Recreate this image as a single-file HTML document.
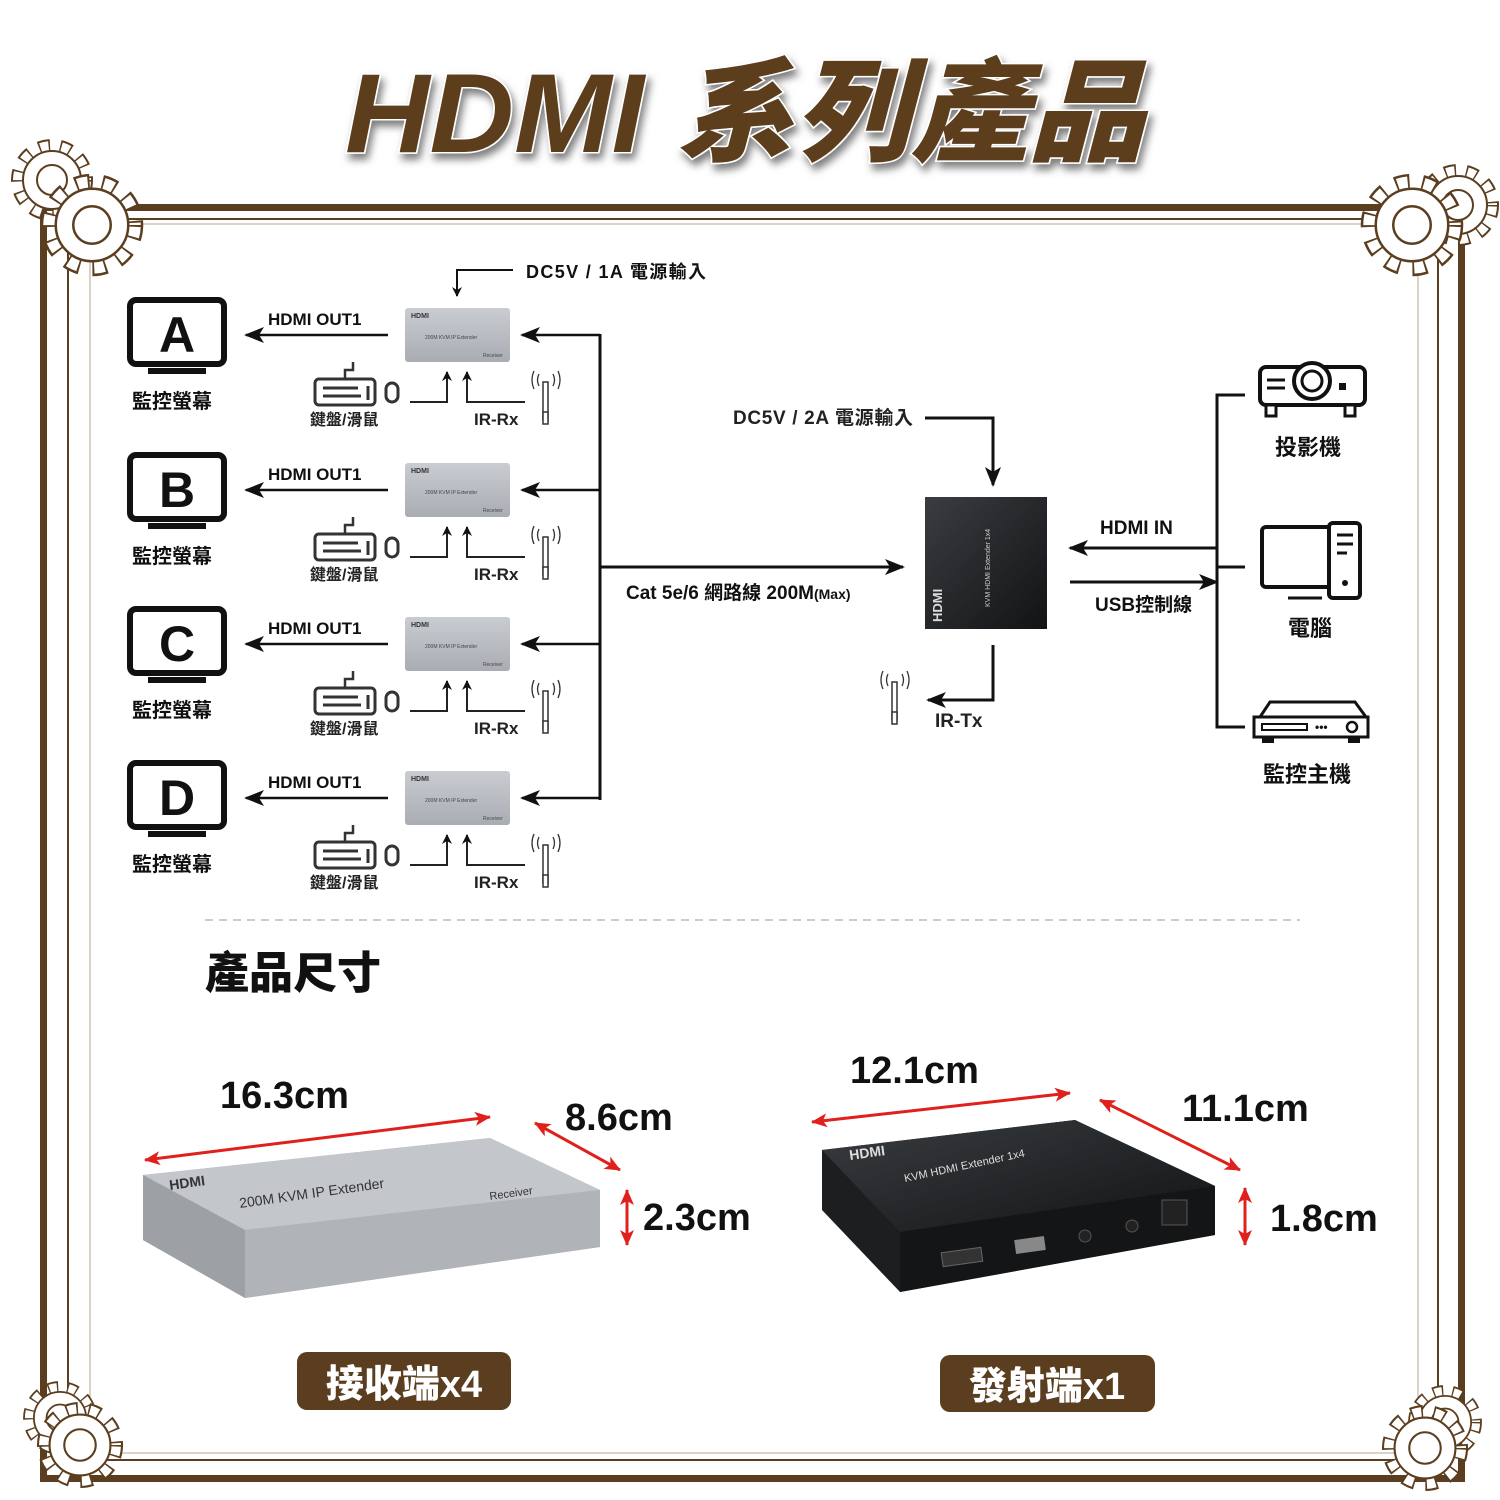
<!DOCTYPE html>
<html><head><meta charset="utf-8"><style>
html,body{margin:0;padding:0;background:#fff}
svg{display:block}
text{font-family:"Liberation Sans","Noto Sans CJK TC",sans-serif}
.b{font-weight:bold}
</style></head><body>
<svg width="1500" height="1500" viewBox="0 0 1500 1500" xmlns="http://www.w3.org/2000/svg">
<defs>
<marker id="ah" markerWidth="10" markerHeight="10" refX="9" refY="5" orient="auto" markerUnits="userSpaceOnUse"><path d="M0,0 L10,5 L0,10 L3,5 Z" fill="#111"/></marker>
<marker id="ahb" viewBox="0 0 20 20" markerWidth="20" markerHeight="20" refX="18" refY="10" orient="auto" markerUnits="userSpaceOnUse"><path d="M0,2 L20,10 L0,18 L5,10 Z" fill="#111"/></marker>
<marker id="rh" viewBox="0 0 16 16" markerWidth="16" markerHeight="16" refX="15" refY="8" orient="auto-start-reverse" markerUnits="userSpaceOnUse"><path d="M0,1 L16,8 L0,15 L4,8 Z" fill="#e0201c"/></marker>
<linearGradient id="gr" x1="0" y1="0" x2="0" y2="1"><stop offset="0" stop-color="#c9cdd2"/><stop offset="1" stop-color="#a9adb3"/></linearGradient>
<linearGradient id="bk" x1="0" y1="0" x2="1" y2="1"><stop offset="0" stop-color="#3a3d40"/><stop offset="1" stop-color="#111315"/></linearGradient>
<filter id="sh"><feDropShadow dx="3" dy="6" stdDeviation="4" flood-color="#000" flood-opacity="0.5"/></filter>
<g id="gear"><circle r="34" fill="none" stroke="#5b3e1f" stroke-width="14" stroke-dasharray="11 10"/><circle r="34" fill="none" stroke="#fff" stroke-width="10" stroke-dasharray="8 13" stroke-dashoffset="-1.5"/><circle r="29" fill="#fff" stroke="#5b3e1f" stroke-width="2"/><circle r="15" fill="#fff" stroke="#5b3e1f" stroke-width="2"/></g>
<g id="mon"><rect x="2" y="2" width="94" height="64" rx="6" fill="#fff" stroke="#111" stroke-width="6"/><rect x="20" y="70" width="58" height="6" fill="#111"/></g>
<g id="recv"><rect x="0" y="0" width="105" height="54" rx="3" fill="url(#gr)"/><text x="6" y="10" font-size="7" class="b" fill="#333">HDMI</text><text x="20" y="31" font-size="5" fill="#444">200M KVM IP Extender</text><text x="78" y="49" font-size="5" fill="#444">Receiver</text></g>
<g id="kb"><path d="M40,0 V8 H32 V16" fill="none" stroke="#333" stroke-width="2.5"/><rect x="2" y="17" width="60" height="26" rx="4" fill="#fff" stroke="#333" stroke-width="3"/><line x1="10" y1="26" x2="45" y2="26" stroke="#333" stroke-width="3"/><line x1="10" y1="34" x2="48" y2="34" stroke="#333" stroke-width="3"/><line x1="55" y1="24" x2="55" y2="38" stroke="#333" stroke-width="3"/><rect x="73" y="21" width="12" height="19" rx="6" fill="#fff" stroke="#333" stroke-width="3"/></g>
<g id="ant"><rect x="-3" y="12" width="5" height="38" fill="#fff" stroke="#333" stroke-width="1.5"/><rect x="-3" y="42" width="5" height="12" fill="#fff" stroke="#333" stroke-width="1.5"/>
<path d="M-7,4 Q-10,10 -7,16 M-12,1 Q-16,10 -12,19 M7,4 Q10,10 7,16 M12,1 Q16,10 12,19" fill="none" stroke="#333" stroke-width="1.3"/></g>
</defs>

<!-- frame -->
<rect x="40" y="204" width="1425" height="7" fill="#5b3e1f"/>
<line x1="70" y1="219" x2="1440" y2="219" stroke="#5b3e1f" stroke-width="2"/>
<line x1="90" y1="224" x2="1420" y2="224" stroke="#b8a58e" stroke-width="1"/>
<rect x="40" y="204" width="7" height="1278" fill="#5b3e1f"/>
<line x1="68" y1="220" x2="68" y2="1458" stroke="#5b3e1f" stroke-width="2"/>
<line x1="90" y1="225" x2="90" y2="1452" stroke="#b8a58e" stroke-width="1"/>
<rect x="1458" y="204" width="7" height="1278" fill="#5b3e1f"/>
<line x1="1438" y1="220" x2="1438" y2="1458" stroke="#5b3e1f" stroke-width="2"/>
<line x1="1418" y1="225" x2="1418" y2="1452" stroke="#b8a58e" stroke-width="1"/>
<rect x="40" y="1475" width="1425" height="7" fill="#5b3e1f"/>
<line x1="68" y1="1460" x2="1438" y2="1460" stroke="#5b3e1f" stroke-width="2"/>
<line x1="90" y1="1453" x2="1418" y2="1453" stroke="#b8a58e" stroke-width="1"/>
<use href="#gear" transform="translate(52,180) scale(1.0)"/><use href="#gear" transform="translate(92,225) scale(1.25)"/>
<use href="#gear" transform="translate(1458,205) scale(1.0)"/><use href="#gear" transform="translate(1412,225) scale(1.25)"/>
<use href="#gear" transform="translate(60,1418) scale(0.9)"/><use href="#gear" transform="translate(80,1445) scale(1.05)"/>
<use href="#gear" transform="translate(1445,1422) scale(0.9)"/><use href="#gear" transform="translate(1425,1448) scale(1.05)"/>

<!-- title -->
<text x="745" y="152" text-anchor="middle" font-size="112" font-weight="900" font-style="italic" fill="#5b3e1f" stroke="#fff" stroke-width="3" paint-order="stroke" filter="url(#sh)" textLength="800" lengthAdjust="spacingAndGlyphs">HDMI 系列產品</text>

<!-- DC5V 1A -->
<polyline points="513,270 457,270 457,296" fill="none" stroke="#111" stroke-width="2" marker-end="url(#ah)"/>
<text x="526" y="278" font-size="18" class="b" fill="#111" textLength="180">DC5V / 1A 電源輸入</text>

<!-- rows -->
<g>
<use href="#mon" transform="translate(128,298)"/>
<text x="177" y="352" font-size="50" class="b" text-anchor="middle" fill="#111">A</text>
<text x="132" y="408" font-size="20" class="b" fill="#111">監控螢幕</text>
<text x="268" y="325" font-size="17" class="b" fill="#111">HDMI OUT1</text>
<line x1="388" y1="335" x2="246" y2="335" stroke="#111" stroke-width="2.5" marker-end="url(#ahb)"/>
<use href="#recv" transform="translate(405,308)"/>
<use href="#kb" transform="translate(313,362)"/>
<text x="310" y="425" font-size="16" class="b" fill="#222">鍵盤/滑鼠</text>
<polyline points="410,402 447,402 447,372" fill="none" stroke="#222" stroke-width="2" marker-end="url(#ah)"/>
<polyline points="525,402 467,402 467,372" fill="none" stroke="#222" stroke-width="2" marker-end="url(#ah)"/>
<text x="474" y="425" font-size="17" class="b" fill="#222">IR-Rx</text>
<use href="#ant" transform="translate(546,370)"/>
<line x1="600" y1="335" x2="522" y2="335" stroke="#111" stroke-width="2.5" marker-end="url(#ahb)"/>
</g>
<g transform="translate(0,155)">
<use href="#mon" transform="translate(128,298)"/><text x="177" y="352" font-size="50" class="b" text-anchor="middle" fill="#111">B</text>
<text x="132" y="408" font-size="20" class="b" fill="#111">監控螢幕</text><text x="268" y="325" font-size="17" class="b" fill="#111">HDMI OUT1</text>
<line x1="388" y1="335" x2="246" y2="335" stroke="#111" stroke-width="2.5" marker-end="url(#ahb)"/><use href="#recv" transform="translate(405,308)"/><use href="#kb" transform="translate(313,362)"/>
<text x="310" y="425" font-size="16" class="b" fill="#222">鍵盤/滑鼠</text>
<polyline points="410,402 447,402 447,372" fill="none" stroke="#222" stroke-width="2" marker-end="url(#ah)"/><polyline points="525,402 467,402 467,372" fill="none" stroke="#222" stroke-width="2" marker-end="url(#ah)"/>
<text x="474" y="425" font-size="17" class="b" fill="#222">IR-Rx</text><use href="#ant" transform="translate(546,370)"/>
<line x1="600" y1="335" x2="522" y2="335" stroke="#111" stroke-width="2.5" marker-end="url(#ahb)"/>
</g>
<g transform="translate(0,309)">
<use href="#mon" transform="translate(128,298)"/><text x="177" y="352" font-size="50" class="b" text-anchor="middle" fill="#111">C</text>
<text x="132" y="408" font-size="20" class="b" fill="#111">監控螢幕</text><text x="268" y="325" font-size="17" class="b" fill="#111">HDMI OUT1</text>
<line x1="388" y1="335" x2="246" y2="335" stroke="#111" stroke-width="2.5" marker-end="url(#ahb)"/><use href="#recv" transform="translate(405,308)"/><use href="#kb" transform="translate(313,362)"/>
<text x="310" y="425" font-size="16" class="b" fill="#222">鍵盤/滑鼠</text>
<polyline points="410,402 447,402 447,372" fill="none" stroke="#222" stroke-width="2" marker-end="url(#ah)"/><polyline points="525,402 467,402 467,372" fill="none" stroke="#222" stroke-width="2" marker-end="url(#ah)"/>
<text x="474" y="425" font-size="17" class="b" fill="#222">IR-Rx</text><use href="#ant" transform="translate(546,370)"/>
<line x1="600" y1="335" x2="522" y2="335" stroke="#111" stroke-width="2.5" marker-end="url(#ahb)"/>
</g>
<g transform="translate(0,463)">
<use href="#mon" transform="translate(128,298)"/><text x="177" y="352" font-size="50" class="b" text-anchor="middle" fill="#111">D</text>
<text x="132" y="408" font-size="20" class="b" fill="#111">監控螢幕</text><text x="268" y="325" font-size="17" class="b" fill="#111">HDMI OUT1</text>
<line x1="388" y1="335" x2="246" y2="335" stroke="#111" stroke-width="2.5" marker-end="url(#ahb)"/><use href="#recv" transform="translate(405,308)"/><use href="#kb" transform="translate(313,362)"/>
<text x="310" y="425" font-size="16" class="b" fill="#222">鍵盤/滑鼠</text>
<polyline points="410,402 447,402 447,372" fill="none" stroke="#222" stroke-width="2" marker-end="url(#ah)"/><polyline points="525,402 467,402 467,372" fill="none" stroke="#222" stroke-width="2" marker-end="url(#ah)"/>
<text x="474" y="425" font-size="17" class="b" fill="#222">IR-Rx</text><use href="#ant" transform="translate(546,370)"/>
<line x1="600" y1="335" x2="522" y2="335" stroke="#111" stroke-width="2.5" marker-end="url(#ahb)"/>
</g>
<line x1="600" y1="334" x2="600" y2="800" stroke="#111" stroke-width="3"/>
<line x1="600" y1="567" x2="903" y2="567" stroke="#111" stroke-width="3" marker-end="url(#ahb)"/>
<text x="626" y="599" font-size="19" class="b" fill="#111">Cat 5e/6 網路線 200M<tspan font-size="14">(Max)</tspan></text>

<!-- transmitter -->
<text x="733" y="424" font-size="19" class="b" fill="#222" textLength="180">DC5V / 2A 電源輸入</text>
<polyline points="925,418 993,418 993,485" fill="none" stroke="#111" stroke-width="3" marker-end="url(#ahb)"/>
<rect x="925" y="497" width="122" height="132" fill="url(#bk)"/>
<text transform="translate(942,622) rotate(-90)" font-size="13" font-weight="900" fill="#ddd">HDMI</text>
<text transform="translate(990,607) rotate(-90)" font-size="7" fill="#ccc">KVM HDMI Extender 1x4</text>
<polyline points="993,645 993,700 928,700" fill="none" stroke="#111" stroke-width="3" marker-end="url(#ahb)"/>
<use href="#ant" transform="translate(895,670)"/>
<text x="935" y="727" font-size="19" class="b" fill="#222">IR-Tx</text>
<text x="1100" y="534" font-size="19" class="b" fill="#111">HDMI IN</text>
<line x1="1217" y1="548" x2="1070" y2="548" stroke="#111" stroke-width="3" marker-end="url(#ahb)"/>
<line x1="1070" y1="582" x2="1217" y2="582" stroke="#111" stroke-width="3" marker-end="url(#ahb)"/>
<text x="1095" y="611" font-size="19" class="b" fill="#111">USB控制線</text>
<polyline points="1245,395 1217,395 1217,727 1245,727" fill="none" stroke="#111" stroke-width="3"/>
<line x1="1217" y1="567" x2="1245" y2="567" stroke="#111" stroke-width="3"/>
<!-- projector -->
<rect x="1260" y="367" width="105" height="38" rx="6" fill="#fff" stroke="#111" stroke-width="4"/>
<circle cx="1312" cy="381" r="18" fill="#fff" stroke="#111" stroke-width="4"/><circle cx="1312" cy="381" r="10" fill="#fff" stroke="#111" stroke-width="3"/>
<line x1="1267" y1="380" x2="1285" y2="380" stroke="#111" stroke-width="3"/><line x1="1267" y1="388" x2="1285" y2="388" stroke="#111" stroke-width="3"/>
<rect x="1339" y="383" width="7" height="7" fill="#111"/>
<rect x="1266" y="405" width="10" height="11" fill="#fff" stroke="#111" stroke-width="3"/><rect x="1345" y="405" width="10" height="11" fill="#fff" stroke="#111" stroke-width="3"/>
<text x="1275" y="455" font-size="22" class="b" fill="#111">投影機</text>
<!-- computer -->
<rect x="1262" y="527" width="70" height="60" rx="4" fill="#fff" stroke="#111" stroke-width="4"/>
<rect x="1329" y="523" width="31" height="75" rx="4" fill="#fff" stroke="#111" stroke-width="4"/>
<line x1="1337" y1="535" x2="1353" y2="535" stroke="#111" stroke-width="3"/><line x1="1337" y1="544" x2="1353" y2="544" stroke="#111" stroke-width="3"/><line x1="1337" y1="553" x2="1347" y2="553" stroke="#111" stroke-width="3"/>
<circle cx="1345" cy="583" r="3" fill="#111"/><line x1="1288" y1="598" x2="1322" y2="598" stroke="#111" stroke-width="3"/>
<text x="1288" y="636" font-size="22" class="b" fill="#111">電腦</text>
<!-- dvr -->
<path d="M1260,717 L1270,702 L1355,702 L1366,717 Z" fill="#fff" stroke="#111" stroke-width="3"/>
<rect x="1254" y="717" width="114" height="20" fill="#fff" stroke="#111" stroke-width="3"/>
<rect x="1262" y="724" width="45" height="6" fill="#fff" stroke="#111" stroke-width="2"/>
<text x="1315" y="731" font-size="12" class="b" fill="#111">•••</text>
<circle cx="1352" cy="727" r="5" fill="#fff" stroke="#111" stroke-width="2.5"/>
<rect x="1262" y="737" width="12" height="6" fill="#111"/><rect x="1348" y="737" width="12" height="6" fill="#111"/>
<text x="1263" y="782" font-size="22" class="b" fill="#111">監控主機</text>

<!-- divider -->
<line x1="205" y1="920" x2="1300" y2="920" stroke="#bbb" stroke-width="1.5" stroke-dasharray="8 6"/>
<text x="205" y="988" font-size="44" font-weight="900" fill="#111">產品尺寸</text>

<!-- receiver product -->
<path d="M143,1175 L490,1138 L600,1190 L600,1247 L245,1298 L143,1240 Z" fill="#a9adb3"/>
<path d="M143,1175 L490,1138 L600,1190 L245,1230 Z" fill="#c3c7cc"/>
<path d="M245,1230 L600,1190 L600,1247 L245,1298 Z" fill="#b0b4b9"/>
<path d="M143,1175 L245,1230 L245,1298 L143,1240 Z" fill="#9da1a6"/>
<text transform="translate(170,1190) rotate(-8)" font-size="14" font-weight="900" fill="#333">HDMI</text>
<text transform="translate(240,1208) rotate(-8)" font-size="14" fill="#333">200M KVM IP Extender</text>
<text transform="translate(490,1200) rotate(-8)" font-size="11" fill="#333">Receiver</text>
<line x1="145" y1="1160" x2="490" y2="1117" stroke="#e0201c" stroke-width="3" marker-start="url(#rh)" marker-end="url(#rh)"/>
<line x1="535" y1="1123" x2="620" y2="1170" stroke="#e0201c" stroke-width="3" marker-start="url(#rh)" marker-end="url(#rh)"/>
<line x1="627" y1="1190" x2="627" y2="1245" stroke="#e0201c" stroke-width="3" marker-start="url(#rh)" marker-end="url(#rh)"/>
<text x="220" y="1108" font-size="38" class="b" fill="#111">16.3cm</text>
<text x="565" y="1130" font-size="38" class="b" fill="#111">8.6cm</text>
<text x="643" y="1230" font-size="38" class="b" fill="#111">2.3cm</text>

<!-- transmitter product -->
<path d="M822,1150 L1075,1120 L1215,1186 L1215,1235 L900,1292 L822,1210 Z" fill="#1c1e20"/>
<path d="M822,1150 L1075,1120 L1215,1186 L900,1232 Z" fill="url(#bk)"/>
<path d="M900,1232 L1215,1186 L1215,1235 L900,1292 Z" fill="#141516"/>
<text transform="translate(850,1160) rotate(-8)" font-size="14" font-weight="900" fill="#ddd">HDMI</text>
<text transform="translate(905,1182) rotate(-12)" font-size="11" fill="#ddd">KVM HDMI Extender 1x4</text>
<rect x="1015" y="1238" width="30" height="14" fill="#888" transform="rotate(-8 1030 1245)"/>
<rect x="942" y="1250" width="40" height="14" fill="#333" stroke="#666" transform="rotate(-8 962 1257)"/>
<circle cx="1085" cy="1236" r="6" fill="#222" stroke="#555"/><circle cx="1132" cy="1226" r="6" fill="#222" stroke="#555"/>
<rect x="1162" y="1200" width="25" height="25" fill="#222" stroke="#555"/>
<line x1="812" y1="1122" x2="1070" y2="1093" stroke="#e0201c" stroke-width="3" marker-start="url(#rh)" marker-end="url(#rh)"/>
<line x1="1100" y1="1100" x2="1240" y2="1170" stroke="#e0201c" stroke-width="3" marker-start="url(#rh)" marker-end="url(#rh)"/>
<line x1="1245" y1="1188" x2="1245" y2="1245" stroke="#e0201c" stroke-width="3" marker-start="url(#rh)" marker-end="url(#rh)"/>
<text x="850" y="1083" font-size="38" class="b" fill="#111">12.1cm</text>
<text x="1182" y="1121" font-size="38" class="b" fill="#111">11.1cm</text>
<text x="1270" y="1231" font-size="38" class="b" fill="#111">1.8cm</text>

<!-- buttons -->
<rect x="297" y="1352" width="214" height="58" rx="10" fill="#5b3e1f"/>
<text x="404" y="1397" font-size="38" font-weight="900" text-anchor="middle" fill="#fff">接收端x4</text>
<rect x="940" y="1355" width="215" height="57" rx="10" fill="#5b3e1f"/>
<text x="1047" y="1399" font-size="38" font-weight="900" text-anchor="middle" fill="#fff">發射端x1</text>
</svg>
</body></html>
